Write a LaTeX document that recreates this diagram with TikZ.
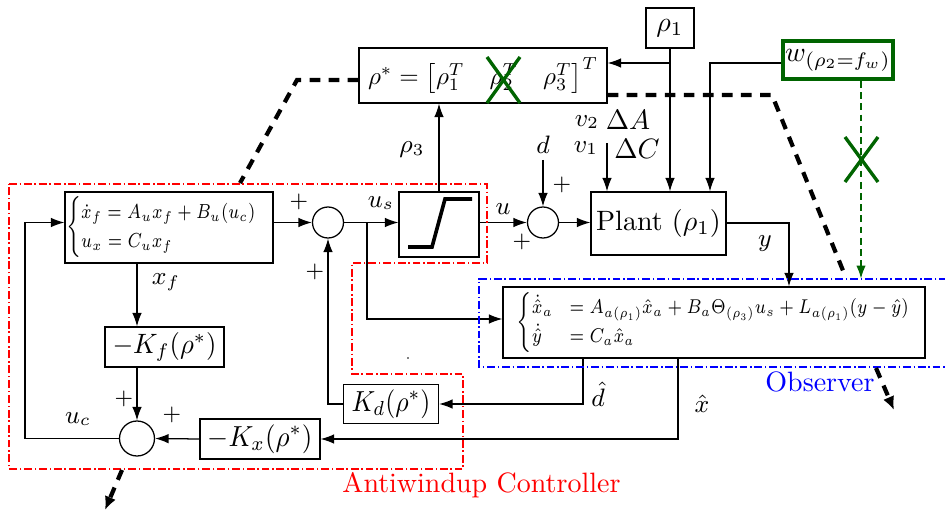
\RequirePackage{fix-cm}
\documentclass[tikz,border=0pt]{standalone}
\usepackage{amsmath}
\usepackage{graphicx}
\usetikzlibrary{arrows.meta,calc}
\definecolor{dkgreen}{RGB}{0,100,0}
\newdimen\pxu \pxu=0.357pt
\newcommand{\eqfont}{\fontsize{7.5}{9}\selectfont}
\newcommand{\fitw}[2]{\resizebox{#1\pxu}{!}{#2}}
\newcommand{\fitwh}[3]{\resizebox*{#1\pxu}{#2\pxu}{#3}}
\begin{document}
\begin{tikzpicture}[x=0.357pt,y=-0.357pt,
  >={Latex[length=4.8pt,width=3.4pt]},
  line width=0.45pt,
  blk/.style={draw, inner sep=0pt, align=center},
  sumc/.style={draw, circle, inner sep=0pt},
  lbl/.style={inner sep=0pt, font=\small},
  pls/.style={inner sep=0pt, font=\footnotesize},
  proj/.style={line width=1.5pt, dash pattern=on 3.8pt off 3pt},
  projtip/.style={-{Latex[length=4.8pt,width=4.2pt]}},
  redbox/.style={red, line width=0.5pt, dash pattern=on 2.8pt off 1pt on 0.5pt off 1pt},
  bluebox/.style={blue, line width=0.5pt, dash pattern=on 2.8pt off 1pt on 0.5pt off 1pt},
  gx/.style={dkgreen, line width=1.2pt},
  gdash/.style={dkgreen, line width=0.8pt, dash pattern=on 2.4pt off 1.6pt},
]
\useasboundingbox (0,0) rectangle (945,514);

% boxes
\node[blk, minimum width=248\pxu, minimum height=55\pxu] (rhostar) at (483,75.5)
  {\fitw{230}{$\rho^*=\bigl[\rho_1^T\quad\rho_2^T\quad\rho_3^T\bigr]^T$}};
\node[blk, minimum width=48\pxu, minimum height=40\pxu] (rho1) at (670,28) {$\rho_1$};
\node[blk, draw=dkgreen, line width=1.4pt, minimum width=110\pxu, minimum height=38\pxu] (w) at (838,60) {$w_{(\rho_2=f_w)}$};
\node[draw, inner xsep=1\pxu, inner ysep=0pt, text width=206\pxu, minimum height=71\pxu, align=left, font=\eqfont] (ctrl) at (169,227.5)
  {\fitwh{192}{61}{$\left\{\def\arraystretch{1.2}\begin{array}{@{}l@{}}\dot x_f = A_u x_f + B_u(u_c)\\ u_x = C_u x_f\end{array}\right.$}};
\node[blk, minimum width=422\pxu, minimum height=71\pxu, font=\eqfont] (obs) at (714,322.5)
  {\fitwh{395}{60}{$\begin{cases}\dot{\hat{x}}_a & = A_{a(\rho_1)}\hat{x}_a + B_a\Theta_{(\rho_3)}u_s + L_{a(\rho_1)}(y-\hat{y})\\ \dot{\hat{y}} & = C_a\hat{x}_a\end{cases}$}};
\node[sumc, minimum size=31\pxu] (sum1) at (328,222.5) {};
\node[blk, minimum width=80\pxu, minimum height=65\pxu] (sat) at (439,224.5) {};
\node[sumc, minimum size=31\pxu] (sum2) at (543,222.5) {};
\node[blk, minimum width=135\pxu, minimum height=63\pxu] (plant) at (658.5,223.5) {Plant ($\rho_1$)};
\node[blk, minimum width=119\pxu, minimum height=40\pxu] (Kf) at (164.5,347) {\fitwh{104}{29}{$-K_f(\rho^*)$}};
\node[blk, minimum width=95\pxu, minimum height=39\pxu] (Kd) at (391,404) {\fitwh{79}{29}{$K_d(\rho^*)$}};
\node[blk, minimum width=120\pxu, minimum height=40\pxu] (Kx) at (260,439) {\fitwh{105}{29}{$-K_x(\rho^*)$}};
\node[sumc, minimum size=35\pxu] (sum3) at (137,438.5) {};

% saturation symbol
\draw[line width=1.3pt] ($(sat.center)+(-31,22.5)$) -- ++(24,0) -- ++(13,-48) -- ++(27,0);

% coordinates
\coordinate (usb) at (367,222.5);
\coordinate (vtop) at (607,143);
\coordinate (j1) at (670,63);
\coordinate (j2) at (710,63);
\coordinate (ytap) at (789,223);
\coordinate (dhx) at (583,358);
\coordinate (xhx) at (678,358);
\coordinate (fb) at (25,222.5);

% connectors
\draw[->] (ctrl.east |- sum1.west) -- (sum1.west);
\draw[->] (sum1.east) -- (sum1.east -| sat.west);
\draw[->] (usb) |- ([yshift=1.25pt]obs.west);
\draw[->] (sat.east |- sum2.west) -- (sum2.west);
\draw[->] (sum2.east) -- (sum2.east -| plant.west);
\node[lbl] (d) at (543,145) {$d$};
\draw[->] ([yshift=-2pt]d.south) -- (sum2.north);
\draw[->] (vtop) -- (vtop |- plant.north);
\draw[->] (rho1.south) -- (rho1.south |- plant.north);
\draw[->] (j1) -- (j1 -| rhostar.east);
\draw[->] (w.west |- j2) -- (j2) -- (j2 |- plant.north);
\draw[->] (plant.east |- ytap) -- (ytap) -- (ytap |- obs.north);
\draw[->] (sat.north) -- (sat.north |- rhostar.south);
\draw[->] (dhx) |- (Kd.east);
\draw[->] (Kd.west) -| (sum1.south);
\draw[->] (xhx) |- (Kx.east);
\draw[->] (Kx.west) -- (sum3.east);
\draw[->] (sum3.north |- ctrl.south) -- (sum3.north |- Kf.north);
\draw[->] (sum3.north |- Kf.south) -- (sum3.north);
\draw[->] (sum3.west) -| (fb) -- (fb -| ctrl.west);

% labels
\node[lbl] at (166,282) {$x_f$};
\node[lbl] at (78,419) {$u_c$};
\node[lbl] at (381,203) {$u_s$};
\node[lbl] at (503,209) {$u$};
\node[lbl] at (412,150) {$\rho_3$};
\node[lbl] at (598,394) {$\hat d$};
\node[lbl] at (702,404) {$\hat x$};
\node[lbl] at (765,244) {$y$};
\node[lbl] at (587,122) {$v_2$};
\node[inner sep=0pt] at (628,120) {$\Delta A$};
\node[lbl] at (586,148) {$v_1$};
\node[inner sep=0pt] at (637,149) {$\Delta C$};
\node[pls] at (299,202) {$+$};
\node[pls] at (315,272) {$+$};
\node[pls] at (562,185) {$+$};
\node[pls] at (522,242) {$+$};
\node[pls] at (124,399) {$+$};
\node[pls] at (172,415) {$+$};

% grouping frames
\draw[redbox] (9,184) -- (487,184) -- (487,263) -- (352,263) -- (352,374) -- (463,374) -- (463,469) -- (9,469) -- cycle;
\draw[bluebox] (947,279) -- (479,279) -- (479,367) -- (947,367);
\node[blue, inner sep=0pt] at (820,382) {Observer};
\node[red, inner sep=0pt] at (481.5,485.5) {Antiwindup Controller};
\fill (408,358) circle (0.8);

% projection lines
\coordinate (pl1) at (359,80);
\coordinate (pA) at (297,80);
\coordinate (pB) at (240,183);
\coordinate (pC) at (122,470);
\coordinate (pD) at (105,510);
\coordinate (pr1) at (607,95);
\coordinate (pE) at (772,95);
\coordinate (pF) at (846,278);
\coordinate (pG) at (876,368);
\coordinate (pH) at (894,410);
\draw[proj] (rhostar.west |- pl1) -- (pA) -- (pB);
\draw[proj, projtip] (pC) -- (pD);
\draw[proj] (rhostar.east |- pr1) -- (pE) -- (pF);
\draw[proj, projtip] (pG) -- (pH);

% green elements
\coordinate (gtop) at (861,81);
\coordinate (gbot) at (861,279);
\draw[gdash, -{Latex[length=4.8pt,width=3.4pt]}] (gtop) -- (gbot);
\draw[gx] (845,137) -- (878,182) (845,182) -- (878,137);
\draw[gx] (487,57) -- (520,103) (487,103) -- (520,57);
\end{tikzpicture}
\end{document}
